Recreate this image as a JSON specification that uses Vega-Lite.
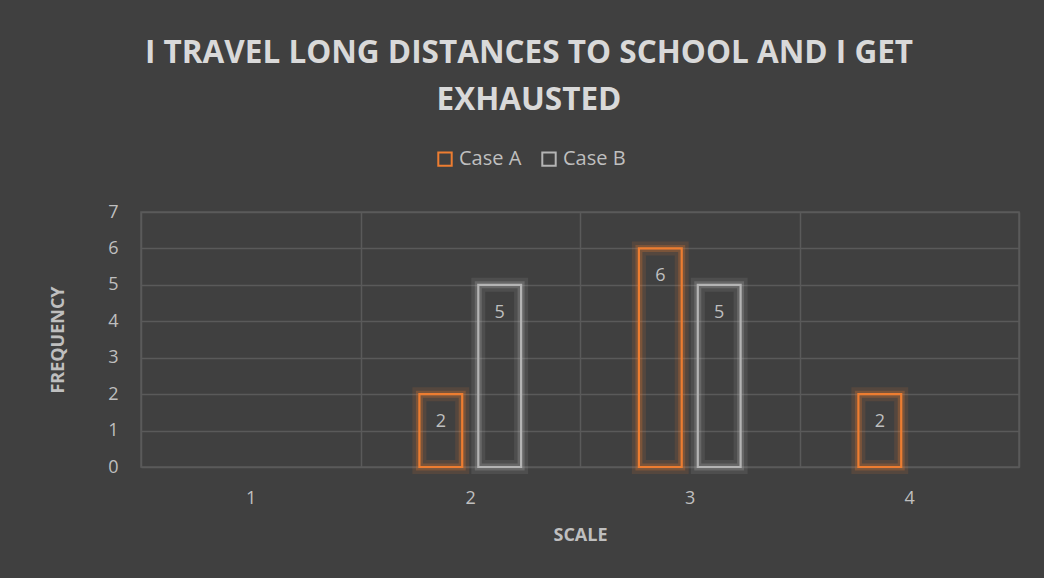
{
  "$schema": "https://vega.github.io/schema/vega-lite/v6.json",
  "width": 878,
  "height": 255,
  "autosize": {"type": "none"},
  "padding": {"left": 141, "top": 212, "right": 25, "bottom": 111},
  "background": "#404040",
  "title": {
    "text": ["I TRAVEL LONG DISTANCES TO SCHOOL AND I GET", "EXHAUSTED"],
    "anchor": "middle",
    "frame": "group",
    "dx": -51,
    "offset": 33,
    "font": "Open Sans",
    "fontSize": 31.5,
    "fontWeight": "bold",
    "color": "#D9D9D9",
    "lineHeight": 47
  },
  "data": {
    "values": [
      {"scale": "2", "case": "Case A", "freq": 2},
      {"scale": "2", "case": "Case B", "freq": 5},
      {"scale": "3", "case": "Case A", "freq": 6},
      {"scale": "3", "case": "Case B", "freq": 5},
      {"scale": "4", "case": "Case A", "freq": 2}
    ]
  },
  "encoding": {
    "x": {
      "field": "scale",
      "type": "nominal",
      "scale": {"domain": ["1", "2", "3", "4"], "paddingInner": 0, "paddingOuter": 0},
      "axis": {
        "title": "SCALE",
        "labelAngle": 0,
        "tickBand": "extent",
        "grid": true,
        "labelPadding": 22,
        "titlePadding": 19
      }
    },
    "xOffset": {
      "field": "case",
      "scale": {"paddingInner": 0.273, "paddingOuter": 1.13}
    },
    "y": {
      "field": "freq",
      "type": "quantitative",
      "scale": {"domain": [0, 7], "nice": false},
      "axis": {
        "title": "FREQUENCY",
        "values": [0, 1, 2, 3, 4, 5, 6, 7],
        "grid": true,
        "labelPadding": 23,
        "titlePadding": 40
      }
    },
    "stroke": {
      "field": "case",
      "type": "nominal",
      "scale": {"domain": ["Case A", "Case B"], "range": ["#ED7D31", "#B4B4B4"]},
      "legend": {
        "title": null,
        "orient": "none",
        "legendX": 294,
        "legendY": -63,
        "direction": "horizontal",
        "symbolType": "square",
        "symbolSize": 180,
        "symbolStrokeWidth": 2,
        "symbolFillColor": "transparent",
        "symbolOpacity": 1,
        "labelFont": "Open Sans",
        "labelFontSize": 20,
        "labelColor": "#BFBFBF",
        "labelOffset": 4,
        "columnPadding": 16
      }
    }
  },
  "layer": [
    {
      "mark": {"type": "bar", "fill": "#404040", "fillOpacity": 0, "strokeWidth": 14, "strokeOpacity": 0.12}
    },
    {
      "mark": {"type": "bar", "fill": "#404040", "fillOpacity": 0, "strokeWidth": 7, "strokeOpacity": 0.25}
    },
    {
      "mark": {"type": "bar", "fill": "#404040", "fillOpacity": 0, "strokeWidth": 2.2}
    },
    {
      "mark": {"type": "text", "baseline": "middle", "dy": 28, "font": "Open Sans", "fontSize": 18, "color": "#BFBFBF"},
      "encoding": {
        "text": {"field": "freq", "type": "quantitative"},
        "stroke": {"value": null}
      }
    }
  ],
  "config": {
    "view": {"stroke": "#5A5A5A", "strokeWidth": 1.5},
    "axis": {
      "domain": false,
      "ticks": false,
      "gridColor": "#5A5A5A",
      "gridWidth": 1.5,
      "labelFont": "Open Sans",
      "labelFontSize": 18,
      "labelColor": "#BFBFBF",
      "titleFont": "Open Sans",
      "titleFontSize": 18,
      "titleFontWeight": "bold",
      "titleColor": "#BFBFBF"
    }
  }
}
